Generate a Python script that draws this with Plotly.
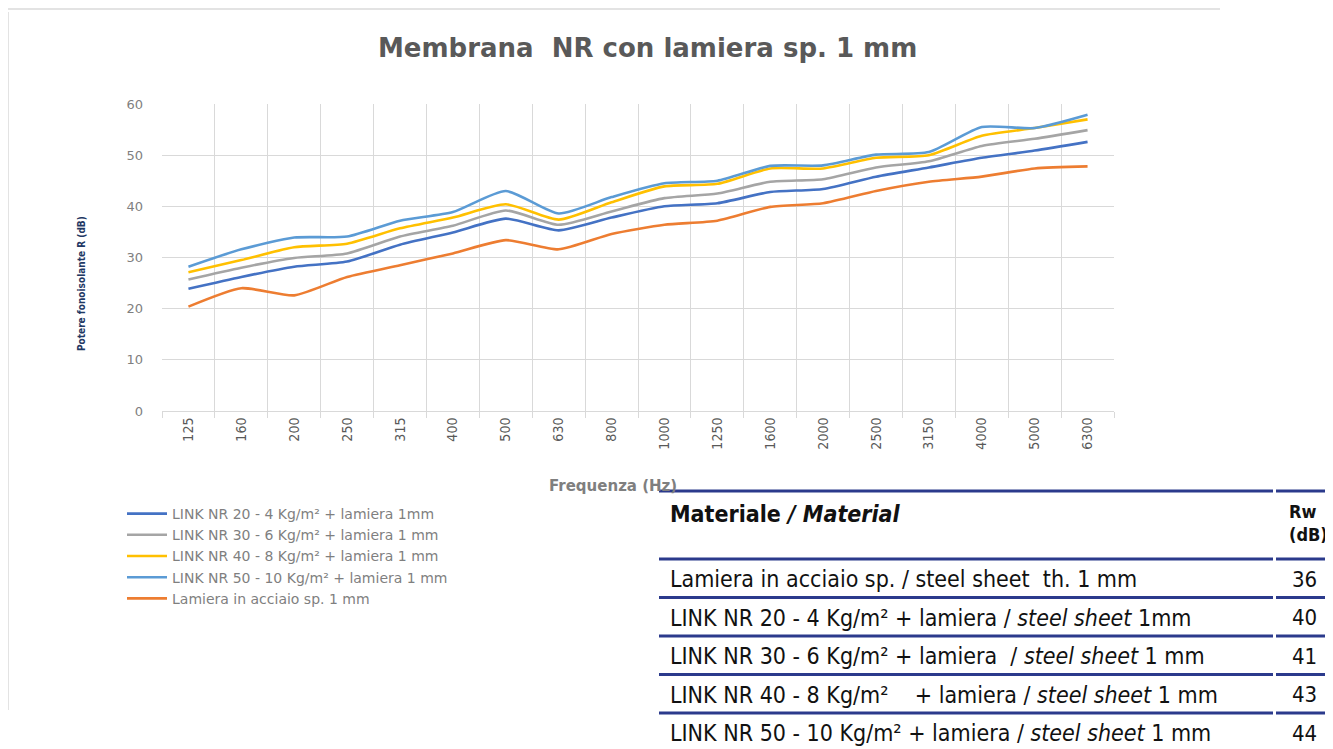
import plotly.graph_objects as go

# ---------------- data ----------------
frequencies = ["125", "160", "200", "250", "315", "400", "500", "630", "800", "1000",
               "1250", "1600", "2000", "2500", "3150", "4000", "5000", "6300"]

nr20 = [23.9, 26.2, 28.2, 29.2, 32.5, 34.9, 37.6, 35.3, 37.8, 40.0,
        40.6, 42.8, 43.4, 45.8, 47.6, 49.5, 50.9, 52.6]
nr30 = [25.7, 28.0, 29.9, 30.8, 34.1, 36.2, 39.2, 36.4, 39.0, 41.6,
        42.5, 44.8, 45.3, 47.6, 48.8, 51.8, 53.2, 54.9]
nr40 = [27.1, 29.5, 32.0, 32.7, 35.7, 37.8, 40.4, 37.4, 40.8, 43.9,
        44.4, 47.4, 47.4, 49.5, 50.0, 53.8, 55.3, 57.0]
nr50 = [28.2, 31.6, 33.9, 34.1, 37.2, 38.9, 43.0, 38.6, 41.8, 44.5,
        45.0, 47.9, 48.0, 50.1, 50.6, 55.5, 55.3, 57.9]
steel = [20.4, 24.0, 22.6, 26.2, 28.5, 30.8, 33.4, 31.6, 34.6, 36.4,
         37.2, 39.9, 40.6, 43.0, 44.8, 45.8, 47.4, 47.8]

series_names = [
    "LINK NR 20 - 4 Kg/m² + lamiera 1mm",
    "LINK NR 30 - 6 Kg/m² + lamiera 1 mm",
    "LINK NR 40 - 8 Kg/m² + lamiera 1 mm",
    "LINK NR 50 - 10 Kg/m² + lamiera 1 mm",
    "Lamiera in acciaio sp. 1 mm",
]
series_colors = ["#4472C4", "#A5A5A5", "#FFC000", "#5B9BD5", "#ED7D31"]
series_values = [nr20, nr30, nr40, nr50, steel]

y_ticks = [0, 10, 20, 30, 40, 50, 60]

table_header = ["<b>Materiale <i>/ Material</i></b>", "<b>Rw<br>(dB)</b>"]
table_materials = [
    "Lamiera in acciaio sp. / steel sheet  th. 1 mm",
    "LINK NR 20 - 4 Kg/m² + lamiera / <i>steel sheet</i> 1mm",
    "LINK NR 30 - 6 Kg/m² + lamiera  / <i>steel sheet</i> 1 mm",
    "LINK NR 40 - 8 Kg/m²    + lamiera / <i>steel sheet</i> 1 mm",
    "LINK NR 50 - 10 Kg/m² + lamiera / <i>steel sheet</i> 1 mm",
]
table_rw = [36, 40, 41, 43, 44]

# ---------------- layout geometry (page pixels) ----------------
OFF = 8                      # page body margin
W, H = 1333 - OFF, 749 - OFF  # figure size
PL, PR, PT, PB = 162, 1114, 104, 411   # plot area in page pixels


def px_x(px):
    return (px - PL) / (PR - PL)


def px_y(py):
    return (PB - py) / (PB - PT)


fig = go.Figure()
for name, vals, col in zip(series_names, series_values, series_colors):
    fig.add_trace(go.Scatter(
        x=frequencies, y=vals, name=name, mode="lines",
        line=dict(color=col, width=2.6, shape="spline", smoothing=0.6),
    ))

grid = "#D9D9D9"
fig.update_xaxes(
    type="category", range=[-0.5, len(frequencies) - 0.5],
    showgrid=True, gridcolor=grid, gridwidth=1, tickson="boundaries",
    ticks="outside", ticklen=6, tickcolor=grid,
    showline=True, linecolor=grid, linewidth=1, mirror=False,
    tickangle=-90, tickfont=dict(family="DejaVu Sans Condensed, DejaVu Sans", size=14, color="#595959"),
)
fig.update_yaxes(
    range=[0, 60], tickvals=y_ticks, showgrid=True, gridcolor=grid, gridwidth=1,
    zeroline=False, showline=False, ticks="", ticklabelstandoff=18,
    tickfont=dict(family="DejaVu Sans", size=13, color="#7F7F7F"),
)

annotations = []
# title
annotations.append(dict(
    text="<b>Membrana  NR con lamiera sp. 1 mm</b>", x=px_x(647), y=px_y(48),
    xref="paper", yref="paper", showarrow=False, xanchor="center", yanchor="middle",
    font=dict(family="DejaVu Sans", size=26, color="#595959"),
))
# y-axis title
annotations.append(dict(
    text="<b>Potere fonoisolante R (dB)</b>", x=px_x(81), y=px_y(284),
    xref="paper", yref="paper", showarrow=False, textangle=-90,
    xanchor="center", yanchor="middle",
    font=dict(family="DejaVu Sans Condensed, DejaVu Sans", size=10, color="#1F3864"),
))
# x-axis title
annotations.append(dict(
    text="<b>Frequenza (Hz)</b>", x=px_x(613), y=px_y(486),
    xref="paper", yref="paper", showarrow=False, xanchor="center", yanchor="middle",
    font=dict(family="DejaVu Sans", size=15, color="#7F7F7F"),
))

# ---------------- table (annotations + rules) ----------------
tfont = "Liberation Sans Narrow, DejaVu Sans Condensed, Liberation Sans, sans-serif"
T_LEFT, T_RIGHT, T_COL2 = 659, 1333, 1290
T_SPLIT = 1273
NAVY = "#2B3A8C"
header_top = 491
header_bottom = 559
row_h = 38.5
TSIZE = 23

annotations.append(dict(
    text=table_header[0], x=px_x(T_LEFT + 9), y=px_y(header_top + 8),
    xref="paper", yref="paper", showarrow=False, xanchor="left", yanchor="top",
    align="left", font=dict(family=tfont, size=TSIZE, color="#111111"),
))
annotations.append(dict(
    text=table_header[1], x=px_x(T_COL2 - 3), y=px_y(header_top + 8),
    xref="paper", yref="paper", showarrow=False, xanchor="left", yanchor="top",
    align="left", font=dict(family=tfont, size=18, color="#111111"),
))

shapes = []
line_ys = [header_top, header_bottom] + [header_bottom + row_h * (i + 1) for i in range(len(table_materials) - 1)]
for ly in line_ys:
    for x0, x1 in [(T_LEFT, T_SPLIT), (T_SPLIT + 3, T_RIGHT)]:
        shapes.append(dict(type="line", xref="paper", yref="paper",
                           x0=px_x(x0), x1=px_x(x1), y0=px_y(ly), y1=px_y(ly),
                           line=dict(color=NAVY, width=3)))

for i, (mat, rw) in enumerate(zip(table_materials, table_rw)):
    cy = header_bottom + row_h * (i + 0.5) + 1
    annotations.append(dict(
        text=mat, x=px_x(T_LEFT + 9), y=px_y(cy),
        xref="paper", yref="paper", showarrow=False, xanchor="left", yanchor="middle",
        font=dict(family=tfont, size=TSIZE, color="#111111"),
    ))
    annotations.append(dict(
        text=str(rw), x=px_x(T_COL2), y=px_y(cy),
        xref="paper", yref="paper", showarrow=False, xanchor="left", yanchor="middle",
        font=dict(family=tfont, size=TSIZE - 1, color="#111111"),
    ))

# chart frame lines (top and left)
shapes.append(dict(type="line", xref="paper", yref="paper",
                   x0=px_x(0), x1=px_x(1220), y0=px_y(9), y1=px_y(9),
                   line=dict(color="#E3E3E3", width=2)))
shapes.append(dict(type="line", xref="paper", yref="paper",
                   x0=px_x(8), x1=px_x(8), y0=px_y(12), y1=px_y(710),
                   line=dict(color="#E3E3E3", width=2)))

fig.update_layout(
    width=W, height=H,
    margin=dict(l=PL - OFF, r=W - (PR - OFF), t=PT - OFF, b=H - (PB - OFF), autoexpand=False),
    paper_bgcolor="white", plot_bgcolor="white",
    showlegend=True,
    legend=dict(
        xref="container", yref="container", x=(122 - OFF) / W, y=1 - (498 - OFF) / H,
        xanchor="left", yanchor="top", bgcolor="rgba(0,0,0,0)",
        font=dict(family="DejaVu Sans", size=14, color="#7F7F7F"),
        itemwidth=40, tracegroupgap=0,
    ),
    annotations=annotations,
    shapes=shapes,
)

fig.write_html("out.html")
